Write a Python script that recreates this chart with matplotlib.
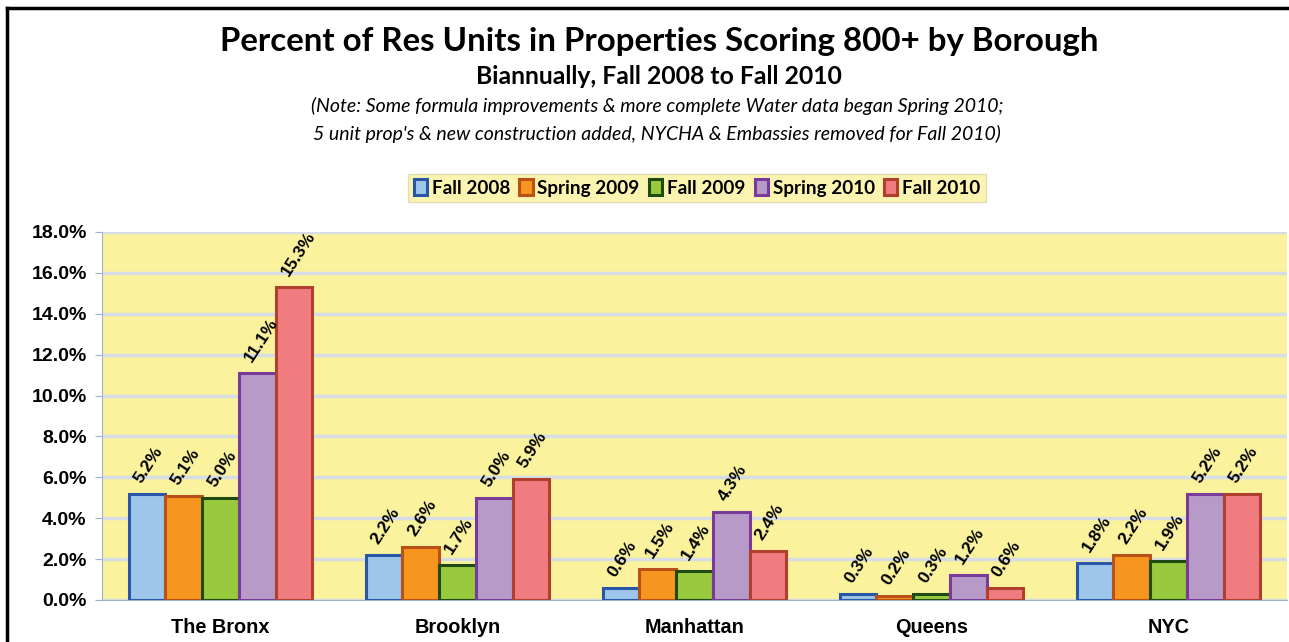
import numpy as np
import matplotlib.pyplot as plt

boroughs = ["The Bronx", "Brooklyn", "Manhattan", "Queens", "NYC"]
periods = ["Fall 2008", "Spring 2009", "Fall 2009", "Spring 2010", "Fall 2010"]
fall_2008 = [5.2, 2.2, 0.6, 0.3, 1.8]
spring_2009 = [5.1, 2.6, 1.5, 0.2, 2.2]
fall_2009 = [5.0, 1.7, 1.4, 0.3, 1.9]
spring_2010 = [11.1, 5.0, 4.3, 1.2, 5.2]
fall_2010 = [15.3, 5.9, 2.4, 0.6, 5.2]
series = [fall_2008, spring_2009, fall_2009, spring_2010, fall_2010]

fills = ["#9dc6ea", "#f7961e", "#99c93c", "#b89ac8", "#f07c80"]
edges = ["#2a56a8", "#b8501a", "#1f4a14", "#7a3a9a", "#b0402e"]

fig = plt.figure(figsize=(12.89, 6.42), dpi=100)
ax = fig.add_axes([102 / 1289, 42 / 642, 1185 / 1289, 368 / 642])
ax.set_facecolor("#faf29c")

x = np.arange(len(boroughs))
w = 0.155
for i, vals in enumerate(series):
    pos = x + (i - 2) * w
    ax.bar(pos, vals, w, color=fills[i], edgecolor=edges[i], linewidth=2.2,
           label=periods[i], zorder=3)
    for p, v in zip(pos, vals):
        ax.annotate(f"{v:.1f}%", (p, v), xytext=(-2, 6), textcoords="offset points",
                    rotation=57, ha="left", va="bottom", rotation_mode="anchor",
                    fontsize=12.5, fontweight="bold", family="Liberation Sans", zorder=4)

ax.set_xlim(-0.5, 4.5)
ax.set_ylim(0, 18)
ticks = np.arange(0, 18.1, 2)
ax.set_yticks(ticks)
ax.set_yticklabels([f"{t:.1f}%" for t in ticks])
ax.set_xticks(x)
ax.set_xticklabels(boroughs)
ax.grid(axis="y", color="#d6dde6", linewidth=2.5, zorder=0)
for s in ["top", "right"]:
    ax.spines[s].set_visible(False)
ax.spines["left"].set_color("#9fb3c8")
ax.spines["bottom"].set_color("#9fb3c8")
ax.tick_params(axis="y", length=5, color="#9fb3c8", pad=6)
ax.tick_params(axis="x", length=0, pad=13)
for lab in ax.get_yticklabels():
    lab.set_fontfamily("Liberation Sans")
    lab.set_fontweight("bold")
    lab.set_fontsize(14)
for lab in ax.get_xticklabels():
    lab.set_fontfamily("Liberation Sans")
    lab.set_fontweight("bold")
    lab.set_fontsize(14.3)

cx = 659 / 1289
fig.text(cx, 1 - 41 / 642, "Percent of Res Units in Properties Scoring 800+ by Borough",
         ha="center", va="center", fontsize=23.8, fontweight="bold", family="Lato")
fig.text(cx, 1 - 76 / 642, "Biannually, Fall 2008 to Fall 2010",
         ha="center", va="center", fontsize=17.8, fontweight="bold", family="Lato")
fig.text(cx - 2 / 1289, 1 - 106 / 642,
         "(Note: Some formula improvements & more complete Water data began Spring 2010;",
         ha="center", va="center", fontsize=14, style="italic", family="Lato")
fig.text(cx - 2 / 1289, 1 - 134 / 642,
         "5 unit prop's & new construction added, NYCHA & Embassies removed for Fall 2010)",
         ha="center", va="center", fontsize=14, style="italic", family="Lato")

leg = fig.legend(loc="center", bbox_to_anchor=(697 / 1289, 1 - 188 / 642), ncol=5,
                 frameon=True, fancybox=False, handlelength=0.7, handleheight=0.9,
                 handletextpad=0.25, columnspacing=0.5, borderpad=0.3,
                 prop={"family": "Lato", "weight": "bold", "size": 13.6})
leg.get_frame().set_facecolor("#faf29c")
leg.get_frame().set_edgecolor("#d8d8b0")

# page frame lines
fig.add_artist(plt.Line2D([7 / 1289, 7 / 1289], [0, 1 - 8 / 642], color="black", lw=2.5))
fig.add_artist(plt.Line2D([7 / 1289, 1], [1 - 8 / 642, 1 - 8 / 642], color="black", lw=2.5))

fig.savefig("out.png", dpi=100)
